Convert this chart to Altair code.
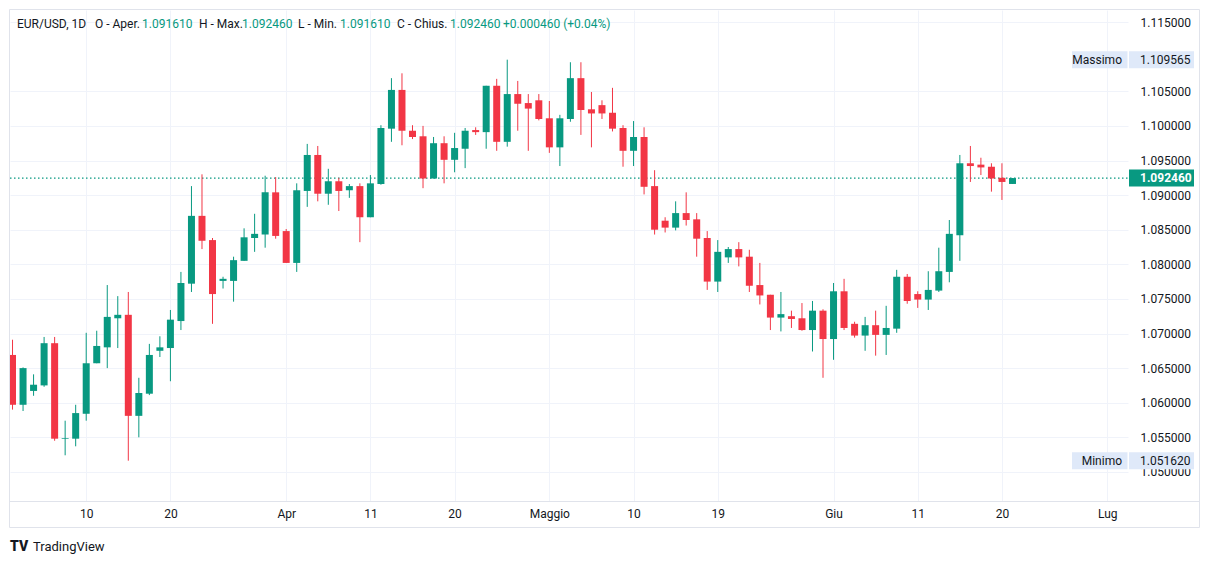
import json
import altair as alt
import pandas as pd

# ---------------- data (EUR/USD daily candles) ----------------
dates = ["2023-03-02", "2023-03-03", "2023-03-05", "2023-03-06", "2023-03-07", "2023-03-08",
         "2023-03-09", "2023-03-10", "2023-03-12", "2023-03-13", "2023-03-14", "2023-03-15",
         "2023-03-16", "2023-03-17", "2023-03-19", "2023-03-20", "2023-03-21", "2023-03-22",
         "2023-03-23", "2023-03-24", "2023-03-26", "2023-03-27", "2023-03-28", "2023-03-29",
         "2023-03-30", "2023-03-31", "2023-04-02", "2023-04-03", "2023-04-04", "2023-04-05",
         "2023-04-06", "2023-04-07", "2023-04-09", "2023-04-10", "2023-04-11", "2023-04-12",
         "2023-04-13", "2023-04-14", "2023-04-16", "2023-04-17", "2023-04-18", "2023-04-19",
         "2023-04-20", "2023-04-21", "2023-04-23", "2023-04-24", "2023-04-25", "2023-04-26",
         "2023-04-27", "2023-04-28", "2023-04-30", "2023-05-01", "2023-05-02", "2023-05-03",
         "2023-05-04", "2023-05-05", "2023-05-07", "2023-05-08", "2023-05-09", "2023-05-10",
         "2023-05-11", "2023-05-12", "2023-05-14", "2023-05-15", "2023-05-16", "2023-05-17",
         "2023-05-18", "2023-05-19", "2023-05-21", "2023-05-22", "2023-05-23", "2023-05-24",
         "2023-05-25", "2023-05-26", "2023-05-28", "2023-05-29", "2023-05-30", "2023-05-31",
         "2023-06-01", "2023-06-02", "2023-06-04", "2023-06-05", "2023-06-06", "2023-06-07",
         "2023-06-08", "2023-06-09", "2023-06-11", "2023-06-12", "2023-06-13", "2023-06-14",
         "2023-06-15", "2023-06-16", "2023-06-18", "2023-06-19", "2023-06-20", "2023-06-21"]

opens = [1.0669, 1.0597, 1.0617, 1.0625, 1.0686, 1.0548, 1.0548, 1.0584, 1.0657, 1.0680,
         1.0722, 1.0727, 1.0581, 1.0613, 1.0675, 1.0679, 1.0718, 1.0772, 1.0870, 1.0835,
         1.0776, 1.0776, 1.0805, 1.0838, 1.0843, 1.0904, 1.0848, 1.0802, 1.0906, 1.0958,
         1.0902, 1.0920, 1.0907, 1.0913, 1.0868, 1.0916, 1.0996, 1.1052, 1.0993, 1.0985,
         1.0924, 1.0975, 1.0951, 1.0967, 1.0994, 1.0991, 1.1058, 1.0977, 1.1046, 1.1033,
         1.1037, 1.1011, 1.0969, 1.1010, 1.1069, 1.1024, 1.1030, 1.1019, 1.0997, 1.0964,
         1.0984, 1.0913, 1.0863, 1.0853, 1.0874, 1.0865, 1.0838, 1.0775, 1.0810, 1.0822,
         1.0811, 1.0770, 1.0756, 1.0723, 1.0725, 1.0722, 1.0705, 1.0733, 1.0692, 1.0761,
         1.0714, 1.0697, 1.0712, 1.0698, 1.0707, 1.0782, 1.0757, 1.0749, 1.0762, 1.0789,
         1.0842, 1.0946, 1.0944, 1.0941, 1.0925, 1.09161]

highs = [1.0691, 1.0651, 1.0641, 1.0695, 1.0695, 1.0574, 1.0597, 1.0701, 1.0704, 1.0770,
         1.0754, 1.0760, 1.0636, 1.0685, 1.0696, 1.0734, 1.0789, 1.0913, 1.0930, 1.0838,
         1.0782, 1.0811, 1.0852, 1.0873, 1.0928, 1.0926, 1.0851, 1.0917, 1.0974, 1.0971,
         1.0938, 1.0925, 1.0916, 1.0917, 1.0929, 1.1001, 1.1069, 1.1076, 1.1001, 1.1000,
         1.0984, 1.0985, 1.0990, 1.0997, 1.0998, 1.1058, 1.1068, 1.10957, 1.1065, 1.1046,
         1.1046, 1.1036, 1.1016, 1.1092, 1.1092, 1.1049, 1.1037, 1.1055, 1.1001, 1.1007,
         1.0998, 1.0936, 1.0868, 1.0891, 1.0904, 1.0874, 1.0848, 1.0835, 1.0825, 1.0832,
         1.0821, 1.0802, 1.0756, 1.0760, 1.0733, 1.0744, 1.0747, 1.0735, 1.0773, 1.0779,
         1.0717, 1.0724, 1.0733, 1.0740, 1.0792, 1.0786, 1.0761, 1.0790, 1.0824, 1.0864,
         1.0958, 1.0971, 1.0954, 1.0946, 1.0946, 1.09246]

lows = [1.0590, 1.0588, 1.0610, 1.0623, 1.0545, 1.0524, 1.0537, 1.0574, 1.0657, 1.0650,
        1.0679, 1.05162, 1.0550, 1.0611, 1.0666, 1.0631, 1.0705, 1.0760, 1.0822, 1.0714,
        1.0765, 1.0746, 1.0805, 1.0818, 1.0824, 1.0837, 1.0802, 1.0789, 1.0883, 1.0891,
        1.0886, 1.0877, 1.0896, 1.0832, 1.0868, 1.0915, 1.0977, 1.0972, 1.0981, 1.0910,
        1.0924, 1.0917, 1.0933, 1.0939, 1.0987, 1.0967, 1.0964, 1.0970, 1.0993, 1.0964,
        1.1008, 1.0961, 1.0942, 1.1006, 1.0987, 1.0969, 1.1010, 1.0992, 1.0941, 1.0942,
        1.0901, 1.0843, 1.0846, 1.0849, 1.0856, 1.0811, 1.0763, 1.0760, 1.0802, 1.0797,
        1.0760, 1.0742, 1.0705, 1.0703, 1.0708, 1.0704, 1.0674, 1.0636, 1.0662, 1.0705,
        1.0694, 1.0675, 1.0668, 1.0669, 1.0701, 1.0743, 1.0737, 1.0734, 1.0760, 1.0774,
        1.0805, 1.0919, 1.0929, 1.0905, 1.0893, 1.09161]

closes = [1.0597, 1.0650, 1.0626, 1.0686, 1.0548, 1.0549, 1.0585, 1.0657, 1.0682, 1.0724,
          1.0727, 1.0581, 1.0614, 1.0669, 1.0680, 1.0720, 1.0773, 1.0870, 1.0834, 1.0757,
          1.0779, 1.0806, 1.0839, 1.0844, 1.0904, 1.0841, 1.0802, 1.0907, 1.0958, 1.0902,
          1.0920, 1.0906, 1.0913, 1.0868, 1.0917, 1.0997, 1.1052, 1.0993, 1.0984, 1.0924,
          1.0975, 1.0951, 1.0968, 1.0993, 1.0991, 1.1058, 1.0977, 1.1046, 1.1032, 1.1025,
          1.1010, 1.0969, 1.1011, 1.1069, 1.1023, 1.1018, 1.1018, 1.0996, 1.0964, 1.0984,
          1.0912, 1.0850, 1.0853, 1.0874, 1.0864, 1.0837, 1.0775, 1.0818, 1.0822, 1.0810,
          1.0769, 1.0755, 1.0723, 1.0728, 1.0721, 1.0705, 1.0733, 1.0692, 1.0761, 1.0708,
          1.0697, 1.0712, 1.0698, 1.0708, 1.0782, 1.0747, 1.0749, 1.0763, 1.0790, 1.0844,
          1.0946, 1.0942, 1.0940, 1.0924, 1.0919, 1.09246]

# time-axis labels (bar index -> label)
tick_idx = [7, 15, 26, 34, 42, 51, 59, 67, 78, 86, 94, 104]
tick_lbl = ["10", "20", "Apr", "11", "20", "Maggio", "10", "19", "Giu", "11", "20", "Lug"]

# price-axis labels (1.110000 is hidden behind the "Massimo" badge in the original)
price_ticks = [1.050, 1.055, 1.060, 1.065, 1.070, 1.075, 1.080, 1.085, 1.090,
               1.095, 1.100, 1.105, 1.115]

last_price = 1.09246
max_price = 1.109565
min_price = 1.05162

header_parts = ["EUR/USD, 1D", "O - Aper.", "1.091610", "H - Max.", "1.092460",
                "L - Min.", "1.091610", "C - Chius.", "1.092460", "+0.000460 (+0.04%)"]
header_is_value = [False, False, True, False, True, False, True, False, True, True]

# ---------------- styling / layout ----------------
GREEN = "#089981"
RED = "#F23645"
GRID = "#f0f3fa"
FRAME = "#e0e3eb"
TEXT = "#131722"
BOXBLUE = "#dfe9f9"
FONT = "Roboto"
W, H = 1118, 491
header_x = [7, 85, 132, 189, 232, 288, 330, 387, 440, 493]

df = pd.DataFrame({"date": dates, "open": opens, "high": highs, "low": lows, "close": closes})
df["i"] = range(len(df))
df["dir"] = ["up" if c >= o else "down" for o, c in zip(opens, closes)]

x_scale = alt.Scale(domain=[0.2354, 105.5], nice=False, zero=False)
y_scale = alt.Scale(domain=[1.045795, 1.116749], nice=False, zero=False)

label_expr = "{}[indexof({}, datum.value)]".format(
    json.dumps(tick_lbl).replace('"', "'"), json.dumps(tick_idx))

ax_x = alt.Axis(values=tick_idx, labelExpr=label_expr, title=None, grid=True, gridColor=GRID,
                gridWidth=1, ticks=False, domain=False, labelColor=TEXT, labelFontSize=12,
                labelFont=FONT, labelPadding=7, labelFlush=False, labelOverlap=False)
ax_y = alt.Axis(orient="right", values=price_ticks, format=".6f", title=None, grid=True,
                gridColor=GRID, gridWidth=1, ticks=False, domain=False, labelColor=TEXT,
                labelFontSize=12, labelFont=FONT, labelPadding=12, labelOverlap=False,
                labelFlush=False)

color = alt.Color("dir:N", scale=alt.Scale(domain=["up", "down"], range=[GREEN, RED]), legend=None)

base = alt.Chart(df)

wicks = base.mark_rule(strokeWidth=1, clip=True).encode(
    x=alt.X("i:Q", scale=x_scale, axis=ax_x),
    y=alt.Y("low:Q", scale=y_scale, axis=ax_y),
    y2="high:Q",
    color=color,
)
bodies = base.mark_bar(size=7, clip=True).encode(
    x=alt.X("i:Q", scale=x_scale, axis=ax_x),
    y=alt.Y("open:Q", scale=y_scale, axis=ax_y),
    y2="close:Q",
    color=color,
)

# frame and time-axis separator
frame = alt.Chart(pd.DataFrame({"k": [0]})).mark_rect(
    fillOpacity=0, stroke=FRAME, strokeWidth=1).encode(
    x=alt.value(-0.5), x2=alt.value(1189.5), y=alt.value(-0.5), y2=alt.value(517.5))
sep = alt.Chart(pd.DataFrame({"k": [0]})).mark_rule(color=FRAME, strokeWidth=1).encode(
    x=alt.value(0), x2=alt.value(1189.5), y=alt.value(491.5))

lp = pd.DataFrame({"p": [last_price], "t": ["1.092460"]})
price_line = alt.Chart(lp).mark_rule(color=GREEN, strokeDash=[1.5, 2.5], strokeWidth=1.3).encode(
    y=alt.Y("p:Q", scale=y_scale, axis=ax_y), x=alt.value(0), x2=alt.value(W))
price_box = alt.Chart(lp).mark_rule(color=GREEN, strokeWidth=17, strokeCap="butt").encode(
    y=alt.Y("p:Q", scale=y_scale, axis=ax_y), x=alt.value(1119), x2=alt.value(1184))
price_txt = alt.Chart(lp).mark_text(align="left", baseline="middle", color="white",
                                    fontWeight="bold", fontSize=12, font=FONT).encode(
    y=alt.Y("p:Q", scale=y_scale, axis=ax_y), x=alt.value(1130), text="t:N")

ext = pd.DataFrame({"p": [max_price, min_price], "name": ["Massimo", "Minimo"],
                    "t": ["1.109565", "1.051620"]})
ext_lbl_box = alt.Chart(ext).mark_rule(color=BOXBLUE, strokeWidth=17, strokeCap="butt").encode(
    y=alt.Y("p:Q", scale=y_scale, axis=ax_y), x=alt.value(1062), x2=alt.value(1117.5))
ext_val_box = alt.Chart(ext).mark_rule(color=BOXBLUE, strokeWidth=17, strokeCap="butt").encode(
    y=alt.Y("p:Q", scale=y_scale, axis=ax_y), x=alt.value(1119), x2=alt.value(1184))
ext_lbl_txt = alt.Chart(ext).mark_text(align="right", baseline="middle", color=TEXT,
                                       fontSize=12, font=FONT).encode(
    y=alt.Y("p:Q", scale=y_scale, axis=ax_y), x=alt.value(1112), text="name:N")
ext_val_txt = alt.Chart(ext).mark_text(align="left", baseline="middle", color=TEXT,
                                       fontSize=12, font=FONT).encode(
    y=alt.Y("p:Q", scale=y_scale, axis=ax_y), x=alt.value(1130), text="t:N")

header_layers = []
for txt, is_val, hx in zip(header_parts, header_is_value, header_x):
    header_layers.append(
        alt.Chart(pd.DataFrame({"t": [txt]})).mark_text(
            align="left", baseline="middle", fontSize=12, font=FONT,
            color=GREEN if is_val else TEXT).encode(
            x=alt.value(hx), y=alt.value(14), text="t:N"))

logo = alt.Chart(pd.DataFrame({"t": ["TV"]})).mark_text(
    align="left", baseline="middle", fontSize=14, font=FONT, fontWeight=900, color=TEXT).encode(
    x=alt.value(0), y=alt.value(537), text="t:N")
brand = alt.Chart(pd.DataFrame({"t": ["TradingView"]})).mark_text(
    align="left", baseline="middle", fontSize=13, font=FONT, color=TEXT).encode(
    x=alt.value(23), y=alt.value(537), text="t:N")

chart = alt.layer(
    frame, sep, price_line, wicks, bodies, price_box, price_txt,
    ext_lbl_box, ext_val_box, ext_lbl_txt, ext_val_txt, *header_layers, logo, brand,
).properties(
    width=W, height=H,
    padding={"left": 2, "top": 2, "right": 73, "bottom": 53},
    autosize=alt.AutoSizeParams(type="none"),
    background="white",
).configure_view(strokeWidth=0)

chart.save("out.html", embed_options={"renderer": "svg", "actions": False})
